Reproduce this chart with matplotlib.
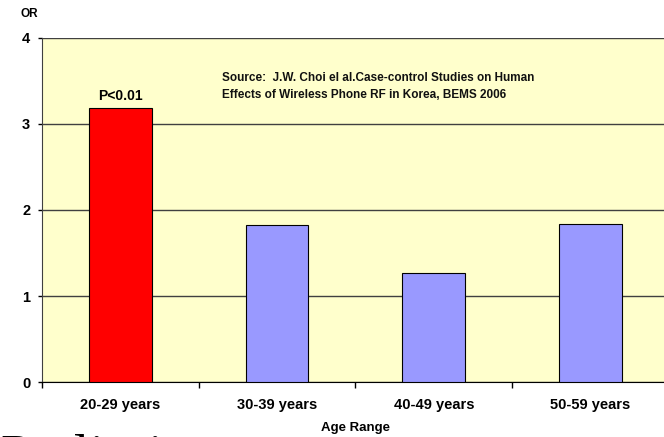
import numpy as np
import matplotlib
matplotlib.use("Agg")
import matplotlib.pyplot as plt

# data
age_ranges = ["20-29 years", "30-39 years", "40-49 years", "50-59 years"]
odds_ratio = [3.18, 1.82, 1.27, 1.84]
bar_colors = ["#FF0000", "#9999FF", "#9999FF", "#9999FF"]
y_ticks = [0, 1, 2, 3, 4]
source_note = ("Source:  J.W. Choi el al.Case-control Studies on Human\n"
               "Effects of Wireless Phone RF in Korea, BEMS 2006")

plt.rcParams['font.family'] = ['Liberation Sans', 'DejaVu Sans']
plt.rcParams['font.weight'] = 'bold'

fig = plt.figure(figsize=(6.64, 4.37), dpi=100)
ax = fig.add_axes([0.0633, 0.1252, 0.944, 0.7886])
ax.set_facecolor("#FFFFCC")

x = np.arange(len(age_ranges))
ax.bar(x, odds_ratio, width=0.4, color=bar_colors, edgecolor="black",
       linewidth=0.8, zorder=3)

ax.set_xlim(-0.5, len(age_ranges) - 0.5)
ax.set_ylim(0, 4)

# gridlines at each integer
ax.set_yticks(y_ticks)
ax.yaxis.grid(True, color="#404040", linewidth=1.0, zorder=1)
ax.tick_params(axis='y', length=3, width=1, pad=5.5, labelsize=10.5)

# x: ticks between categories, labels centered under bars
ax.set_xticks(np.arange(len(age_ranges) + 1) - 0.5)
ax.set_xticklabels([])
ax.set_xticks(x, minor=True)
ax.set_xticklabels(age_ranges, minor=True, fontsize=10.5, fontweight='bold')
ax.tick_params(axis='x', which='major', length=4, width=1)
ax.tick_params(axis='x', which='minor', length=0, pad=11.5)
ax.set_xlabel("Age Range", fontsize=9.5, fontweight='bold', labelpad=7)

for side in ['top', 'right']:
    ax.spines[side].set_visible(False)
ax.spines['left'].set_color("#404040")
ax.spines['bottom'].set_color("black")

ax.annotate("P<0.01", xy=(x[0], odds_ratio[0]), xytext=(0, 6.3),
            textcoords='offset points', ha='center', va='baseline',
            fontsize=10, fontweight='bold')

ax.text(0.65, 3.303, source_note, ha='left', va='baseline', fontsize=8.5,
        fontweight='bold', linespacing=1.5, color="#111111")

fig.text(0.0444, 0.969, "OR", ha='center', va='center', fontsize=8.5,
         fontweight='bold')

# slide title cut off at the bottom edge
fig.text(0.0, -0.085, "Preliminary", ha='left', va='baseline',
         fontsize=40, fontweight='normal',
         family=['Liberation Serif', 'DejaVu Serif'])

fig.savefig("out.png", dpi=100)
